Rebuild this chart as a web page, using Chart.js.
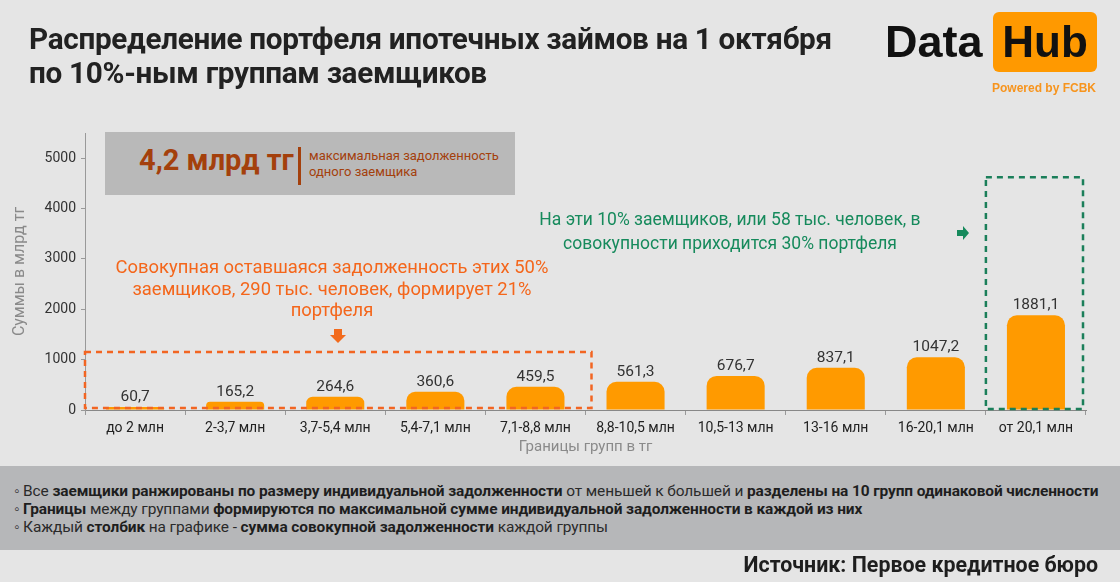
<!DOCTYPE html>
<html lang="ru">
<head>
<meta charset="UTF-8">
<title>Распределение портфеля ипотечных займов</title>
<script src="https://cdn.jsdelivr.net/npm/chart.js"></script>
<style>
    html, body { margin: 0; padding: 0; }
    body {
        width: 1120px; height: 582px; overflow: hidden;
        background: #e5e5e5; position: relative;
        font-family: Roboto, "Noto Sans", sans-serif;
    }
    .abs { position: absolute; }
    #chartBox { position: absolute; left: 0; top: 0; width: 1120px; height: 582px; }
    .title { left: 29px; top: 22px; font-size: 29.7px; font-weight: 700; color: #222; line-height: 34px; letter-spacing: -0.3px; }
    .logo-data { left: 885px; top: 14px; font-size: 45px; font-weight: 700; color: #111; line-height: 56px; font-family: "Liberation Sans", Arial, sans-serif; }
    .logo-hub { left: 993px; top: 12px; width: 104px; height: 60px; background: #ff9900; border-radius: 6px;
        font-size: 44px; font-weight: 700; color: #111; line-height: 60px; text-align: center; font-family: "Liberation Sans", Arial, sans-serif; }
    .logo-pw { left: 992px; top: 81px; font-size: 12px; font-weight: 700; color: #f7941d; font-family: "Liberation Sans", Arial, sans-serif; }
    .maxbox { left: 105px; top: 132px; width: 410px; height: 63px; background: #b9b9b9; }
    .maxbig { left: 139px; top: 143px; font-size: 29px; font-weight: 700; color: #a4400c; }
    .maxbar { left: 298px; top: 147px; width: 3px; height: 38px; background: #a4400c; }
    .maxsmall { left: 309px; top: 148px; font-size: 13px; color: #a4400c; line-height: 16px; }
    .orangetxt { left: 82px; top: 256px; width: 500px; text-align: center; font-size: 18.4px; color: #f4661b; line-height: 21.5px; }
    .greentxt { left: 520px; top: 207px; width: 420px; text-align: center; font-size: 17.5px; color: #168a5c; line-height: 24px; }
    .note { left: 0; top: 466px; width: 1120px; height: 84px; background: #b6b7b9; }
    .notetxt { left: 14px; top: 482px; font-size: 15.45px; color: #2a2a2a; line-height: 18px; white-space: nowrap; letter-spacing: -0.1px; }
    .notetxt b { font-weight: 700; color: #1e1e1e; }
    .source { right: 22px; top: 552px; font-size: 21.4px; font-weight: 700; color: #1e1e1e; white-space: nowrap; }
</style>
</head>
<body>
<div id="chartBox"><canvas id="mortgageChart"></canvas></div>

<div class="abs title">Распределение портфеля ипотечных займов на 1 октября<br>по 10%-ным группам заемщиков</div>

<div class="abs logo-data">Data</div>
<div class="abs logo-hub">Hub</div>
<div class="abs logo-pw">Powered by FCBK</div>

<div class="abs maxbox"></div>
<div class="abs maxbig">4,2 млрд тг</div>
<div class="abs maxbar"></div>
<div class="abs maxsmall">максимальная задолженность<br>одного заемщика</div>

<div class="abs orangetxt">Совокупная оставшаяся задолженность этих 50%<br>заемщиков, 290 тыс. человек, формирует 21%<br>портфеля</div>
<svg class="abs" style="left:330px;top:329px" width="16" height="14" viewBox="0 0 16 14">
    <path d="M4 0 H12 V6 H16 L8 14 L0 6 H4 Z" fill="#f26b1d"/>
</svg>

<div class="abs greentxt">На эти 10% заемщиков, или 58 тыс. человек, в<br>совокупности приходится 30% портфеля</div>
<svg class="abs" style="left:957px;top:226px" width="12" height="14" viewBox="0 0 12 14">
    <path d="M0 4 H6 V0 L12 7 L6 14 V10 H0 Z" fill="#168a5c"/>
</svg>

<div class="abs note"></div>
<div class="abs notetxt">
    ◦ Все <b>заемщики ранжированы по размеру индивидуальной задолженности</b> от меньшей к большей и <b>разделены на 10 групп одинаковой численности</b><br>
    ◦ <b>Границы</b> между группами <b>формируются по максимальной сумме индивидуальной задолженности в каждой из них</b><br>
    ◦ Каждый <b>столбик</b> на графике - <b>сумма совокупной задолженности</b> каждой группы
</div>
<div class="abs source">Источник: Первое кредитное бюро</div>

<script>
    // группы заемщиков (границы в тг)
    const groups = ['до 2 млн', '2-3,7 млн', '3,7-5,4 млн', '5,4-7,1 млн', '7,1-8,8 млн',
                    '8,8-10,5 млн', '10,5-13 млн', '13-16 млн', '16-20,1 млн', 'от 20,1 млн'];
    // суммы в млрд тг
    const amounts = [60.7, 165.2, 264.6, 360.6, 459.5, 561.3, 676.7, 837.1, 1047.2, 1881.1];
    const yTicks = [0, 1000, 2000, 3000, 4000, 5000];

    const fmt = v => v.toFixed(1).replace('.', ',');

    // подписи над столбиками
    const valueLabels = {
        id: 'valueLabels',
        afterDatasetsDraw(chart) {
            const ctx = chart.ctx;
            const meta = chart.getDatasetMeta(0);
            ctx.save();
            ctx.font = '15.5px Roboto';
            ctx.fillStyle = '#333';
            ctx.textAlign = 'center';
            ctx.textBaseline = 'bottom';
            meta.data.forEach((bar, i) => {
                ctx.fillText(fmt(amounts[i]), bar.x, bar.y - 2);
            });
            ctx.restore();
        }
    };

    // пунктирные рамки вокруг групп
    const dashedBoxes = {
        id: 'dashedBoxes',
        afterDatasetsDraw(chart) {
            const ctx = chart.ctx;
            const x = chart.scales.x, y = chart.scales.y;
            const step = x.getPixelForValue(1) - x.getPixelForValue(0);
            const y0 = y.getPixelForValue(0);
            ctx.save();
            ctx.lineWidth = 2.5;
            ctx.setLineDash([6, 5]);

            ctx.strokeStyle = '#f26522';
            const ox1 = chart.chartArea.left;
            const ox2 = x.getPixelForValue(4) + step / 2 + 6;
            const oy = y.getPixelForValue(1150);
            ctx.strokeRect(ox1, oy, ox2 - ox1, y0 - 2 - oy);

            ctx.strokeStyle = '#1b7f5a';
            const gx1 = x.getPixelForValue(9) - step / 2;
            const gx2 = x.getPixelForValue(9) + step / 2 - 3;
            const gy = y.getPixelForValue(4620);
            ctx.strokeRect(gx1, gy, gx2 - gx1, y0 - 1 - gy);
            ctx.restore();
        }
    };

    const ctx = document.getElementById('mortgageChart').getContext('2d');
    const mortgageChart = new Chart(ctx, {
        type: 'bar',
        data: {
            labels: groups,
            datasets: [{
                data: amounts,
                backgroundColor: '#ff9a00',
                borderRadius: { topLeft: 10, topRight: 10 },
                borderSkipped: 'bottom',
                barPercentage: 0.58,
                categoryPercentage: 1
            }]
        },
        options: {
            responsive: true,
            maintainAspectRatio: false,
            animation: false,
            layout: { padding: { left: 0, top: 133, right: 34, bottom: 124 } },
            plugins: {
                legend: { display: false },
                tooltip: { enabled: false }
            },
            scales: {
                x: {
                    afterFit: s => { s.height = 48; },
                    grid: { drawOnChartArea: false, drawTicks: true, tickLength: 5, color: '#999' },
                    border: { color: '#888', width: 1 },
                    ticks: { color: '#222', font: { family: 'Roboto', size: 14 }, padding: 5, maxRotation: 0 },
                    title: { display: true, text: 'Границы групп в тг', color: '#8a8a8a', font: { family: 'Roboto', size: 15 }, padding: { top: 0, bottom: 2 } }
                },
                y: {
                    min: 0,
                    max: 5500,
                    afterFit: s => { s.width = 85; },
                    afterBuildTicks: s => { s.ticks = yTicks.map(v => ({ value: v })); },
                    grid: { drawOnChartArea: false, drawTicks: true, tickLength: 4, color: '#999' },
                    border: { color: '#999', width: 1 },
                    ticks: { color: '#333', font: { family: 'Roboto', size: 14 }, padding: 5, callback: v => String(v) },
                    title: { display: true, text: 'Суммы в млрд тг', color: '#8a8a8a', font: { family: 'Roboto', size: 16 }, padding: { top: 10, bottom: 0 } }
                }
            }
        },
        plugins: [valueLabels, dashedBoxes]
    });
</script>
</body>
</html>
